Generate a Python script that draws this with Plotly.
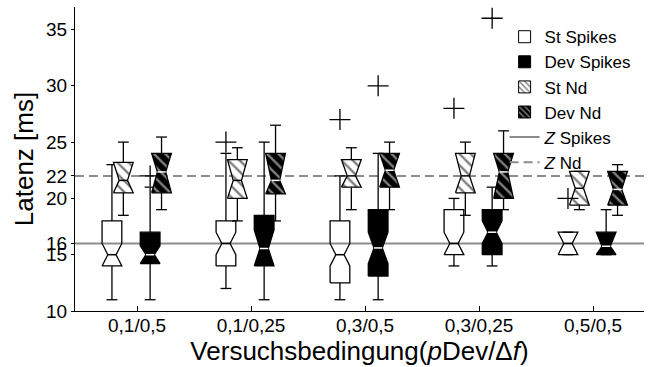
import plotly.graph_objects as go

# ---------------- data ----------------
groups = ["0,1/0,5", "0,1/0,25", "0,3/0,5", "0,3/0,25", "0,5/0,5"]
group_pos = [1, 2, 3, 4, 5]

# St Spikes
st_sp_lo = [11.0, 12.0, 11.0, 14.0, 15.0]
st_sp_q1 = [14.0, 14.0, 12.5, 15.0, 15.0]
st_sp_med = [15.0, 16.0, 15.0, 16.0, 16.0]
st_sp_q3 = [18.0, 18.0, 18.0, 19.0, 17.0]
st_sp_hi = [23.0, 24.0, 22.0, 20.0, 17.0]
st_sp_nlo = [14.0, 15.0, 14.0, 15.0, 15.0]
st_sp_nhi = [16.0, 17.0, 16.0, 17.0, 17.0]
st_sp_out_grp = [2, 3, 4, 5]
st_sp_out_val = [25.0, 27.0, 28.0, 20.0]

# Dev Spikes
dev_sp_lo = [11.0, 11.0, 11.0, 14.0, 15.0]
dev_sp_q1 = [14.2, 14.0, 13.1, 15.0, 15.0]
dev_sp_med = [15.0, 15.55, 15.6, 17.0, 15.75]
dev_sp_q3 = [17.0, 18.5, 19.0, 19.0, 17.0]
dev_sp_hi = [21.0, 25.0, 24.0, 21.0, 19.0]
dev_sp_nlo = [14.2, 14.0, 14.2, 16.0, 15.0]
dev_sp_nhi = [15.8, 17.2, 17.0, 18.0, 17.0]
dev_sp_out_grp = [1, 3, 4]
dev_sp_out_val = [22.0, 30.0, 36.0]

# St Nd
st_nd_lo = [18.5, 18.0, 19.0, 18.5, 19.0]
st_nd_q1 = [20.5, 20.0, 21.0, 20.5, 19.4]
st_nd_med = [21.6, 21.6, 22.0, 22.0, 20.9]
st_nd_q3 = [23.2, 23.45, 23.45, 24.0, 22.4]
st_nd_hi = [25.0, 24.5, 24.5, 25.0, 22.4]
st_nd_nlo = [20.5, 20.0, 21.0, 20.5, 19.4]
st_nd_nhi = [23.2, 23.45, 23.45, 24.0, 22.4]

# Dev Nd
dev_nd_lo = [19.0, 18.0, 19.0, 19.0, 18.5]
dev_nd_q1 = [20.5, 20.4, 21.0, 20.0, 19.4]
dev_nd_med = [22.35, 21.6, 22.5, 22.35, 20.8]
dev_nd_q3 = [24.0, 24.0, 24.0, 24.0, 22.4]
dev_nd_hi = [25.45, 26.5, 25.0, 26.0, 23.0]
dev_nd_nlo = [20.5, 20.4, 21.0, 20.0, 19.4]
dev_nd_nhi = [24.0, 24.0, 24.0, 24.0, 22.4]

z_spikes = 16
z_nd = 22

y_tickvals = [10, 15, 16, 20, 22, 25, 30, 35]

# ---------------- styling ----------------
FONT = "Liberation Sans, Arial, sans-serif"
BOX_W = 0.173
NOTCH_RATIO = 0.42
CAP_RATIO = 0.55

series = [
    dict(name="St Spikes", off=-0.22, lo=st_sp_lo, q1=st_sp_q1, med=st_sp_med, q3=st_sp_q3,
         hi=st_sp_hi, nlo=st_sp_nlo, nhi=st_sp_nhi, og=st_sp_out_grp, ov=st_sp_out_val,
         bg="white", fg=None, medc="black", rank=1),
    dict(name="St Nd", off=-0.12, lo=st_nd_lo, q1=st_nd_q1, med=st_nd_med, q3=st_nd_q3,
         hi=st_nd_hi, nlo=st_nd_nlo, nhi=st_nd_nhi, og=[], ov=[],
         bg="white", fg="black", medc="black", rank=3),
    dict(name="Dev Spikes", off=0.115, lo=dev_sp_lo, q1=dev_sp_q1, med=dev_sp_med, q3=dev_sp_q3,
         hi=dev_sp_hi, nlo=dev_sp_nlo, nhi=dev_sp_nhi, og=dev_sp_out_grp, ov=dev_sp_out_val,
         bg="black", fg=None, medc="white", rank=2),
    dict(name="Dev Nd", off=0.215, lo=dev_nd_lo, q1=dev_nd_q1, med=dev_nd_med, q3=dev_nd_q3,
         hi=dev_nd_hi, nlo=dev_nd_nlo, nhi=dev_nd_nhi, og=[], ov=[],
         bg="black", fg="white", medc="white", rank=4),
]

fig = go.Figure()
h = BOX_W / 2
n = BOX_W * NOTCH_RATIO / 2
cw = BOX_W * CAP_RATIO / 2

out_traces = []
for s in series:
    bx, by, wx, wy, mx, my = [], [], [], [], [], []
    for i, g in enumerate(group_pos):
        c = g + s["off"]
        q1, q3, med = s["q1"][i], s["q3"][i], s["med"][i]
        nlo, nhi = s["nlo"][i], s["nhi"][i]
        lo, hi = s["lo"][i], s["hi"][i]
        bx += [c - h, c - h, c - n, c - h, c - h, c + h, c + h, c + n, c + h, c + h, c - h, None]
        by += [q1, nlo, med, nhi, q3, q3, nhi, med, nlo, q1, q1, None]
        wx += [c, c, None, c, c, None, c - cw, c + cw, None, c - cw, c + cw, None]
        wy += [q3, hi, None, q1, lo, None, hi, hi, None, lo, lo, None]
        mx += [c - n, c + n, None]
        my += [med, med, None]
    fig.add_trace(go.Scatter(x=wx, y=wy, mode="lines", line=dict(color="black", width=1.3),
                             showlegend=False, hoverinfo="skip", legendgroup=s["name"]))
    body = dict(x=bx, y=by, mode="lines", line=dict(color="black", width=1.3),
                showlegend=False, hoverinfo="skip", legendgroup=s["name"])
    if s["fg"] is not None:
        body.update(fill="toself", fillcolor=s["bg"],
                    fillpattern=dict(shape="\\", fgcolor=s["fg"], bgcolor=s["bg"],
                                     size=8, solidity=0.3, fillmode="overlay"))
    elif s["bg"] == "black":
        body.update(fill="toself", fillcolor="black")
    fig.add_trace(go.Scatter(**body))
    fig.add_trace(go.Scatter(x=mx, y=my, mode="lines", line=dict(color=s["medc"], width=1.5),
                             showlegend=False, hoverinfo="skip", legendgroup=s["name"]))
    if s["og"]:
        out_traces.append(go.Scatter(
            x=[g + s["off"] for g in s["og"]], y=s["ov"], mode="markers",
            marker=dict(symbol="cross-thin", size=15, line=dict(color="black", width=1.3)),
            showlegend=False, hoverinfo="skip", legendgroup=s["name"]))

for t in out_traces:
    fig.add_trace(t)

# legend entries (square swatches)
for s in series:
    marker = dict(color=s["bg"], line=dict(color="black", width=1))
    if s["fg"] is not None:
        marker["pattern"] = dict(shape="\\", fgcolor=s["fg"], bgcolor=s["bg"], size=5,
                                 solidity=0.35, fillmode="overlay")
    fig.add_trace(go.Bar(x=[None], y=[None], name=s["name"], marker=marker,
                         legendgroup=s["name"], legendrank=s["rank"]))

fig.add_shape(type="line", xref="paper", x0=0, x1=1, yref="y", y0=z_spikes, y1=z_spikes,
              line=dict(color="#8c8c8c", width=2), layer="below",
              showlegend=True, name="<i>Z</i> Spikes", legendrank=5)
fig.add_shape(type="line", xref="paper", x0=0, x1=1, yref="y", y0=z_nd, y1=z_nd,
              line=dict(color="#8c8c8c", width=2, dash="9px,5px"), layer="below",
              showlegend=True, name="<i>Z</i> Nd", legendrank=6)

fig.update_layout(
    width=653, height=367,
    margin=dict(l=75, r=9, t=7, b=56),
    paper_bgcolor="white", plot_bgcolor="white",
    font=dict(family=FONT, size=19, color="black"),
    showlegend=True,
    legend=dict(x=0.755, y=0.96, xanchor="left", yanchor="top",
                bgcolor="rgba(0,0,0,0)", font=dict(size=17, family=FONT),
                tracegroupgap=0, itemclick=False, itemdoubleclick=False),
    xaxis=dict(range=[0.456, 5.447], tickvals=group_pos, ticktext=groups,
               ticks="inside", ticklen=5, tickcolor="black", showline=True,
               linecolor="black", linewidth=1.2, showgrid=False, zeroline=False,
               tickfont=dict(size=19), ticklabelstandoff=-3,
               title=dict(text="Versuchsbedingung(<i>p</i>Dev/Δ<i>f</i>)",
                          font=dict(size=26), standoff=0)),
    yaxis=dict(range=[10, 37], tickvals=y_tickvals, ticktext=[str(v) for v in y_tickvals],
               ticks="outside", ticklen=3, tickcolor="black", showline=True,
               linecolor="black", linewidth=1.2, showgrid=False, zeroline=False,
               tickfont=dict(size=19),
               title=dict(text="Latenz [ms]", font=dict(size=26), standoff=4)),
)

fig.write_html("out.html")
